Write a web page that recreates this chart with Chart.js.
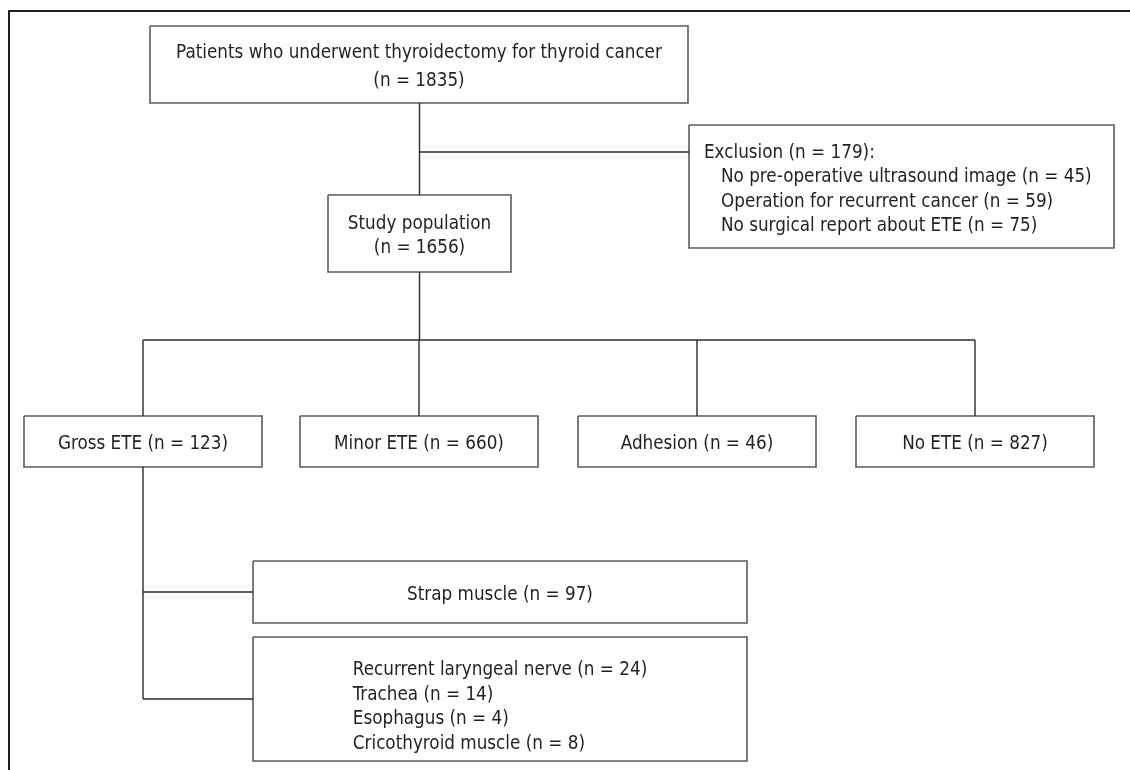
<!DOCTYPE html>
<html><head><meta charset="utf-8">
<script src="https://cdn.jsdelivr.net/npm/chart.js@4/dist/chart.umd.min.js"></script>
<style>html,body{margin:0;padding:0;background:#fff;}#wrap{width:1130px;height:770px;position:relative;}</style>
</head><body><div id="wrap"><canvas id="c"></canvas></div>
<script>
// ---- data ----
const rootLabel = "Patients who underwent thyroidectomy for thyroid cancer";
const rootCount = 1835;
const studyLabel = "Study population";
const studyCount = 1656;
const exclusionTotal = 179;
const exclusionReasons = ["No pre-operative ultrasound image", "Operation for recurrent cancer", "No surgical report about ETE"];
const exclusionCounts = [45, 59, 75];
const eteGroups = ["Gross ETE", "Minor ETE", "Adhesion", "No ETE"];
const eteCounts = [123, 660, 46, 827];
const strapLabel = "Strap muscle";
const strapCount = 97;
const siteLabels = ["Recurrent laryngeal nerve", "Trachea", "Esophagus", "Cricothyroid muscle"];
const siteCounts = [24, 14, 4, 8];

// ---- layout (frame units = px of a 1130x770 page) ----
const L = {
  frame: {x: 9, y: 11, right: 1130, bottom: 770},
  root: {x1: 150, x2: 688, y1: 26, y2: 103, gap: 28},
  study: {x1: 328, x2: 511, y1: 195, y2: 272, gap: 24},
  excl: {x1: 689, x2: 1114, y1: 125, y2: 248, gap: 24.5, pad: 15, indent: 32},
  ete: {x1: [24, 300, 578, 856], w: 238, y1: 416, y2: 467},
  busY: 340, exclY: 152,
  strap: {x1: 253, x2: 747, y1: 561, y2: 623},
  sites: {x1: 253, x2: 747, y1: 637, y2: 761, gap: 24.5, dy: 5},
  textDy: 3
};
const mainX = (L.study.x1 + L.study.x2) / 2;
const eteCx = L.ete.x1.map(x => x + L.ete.w / 2);
const grossX = eteCx[0];
const strapY = (L.strap.y1 + L.strap.y2) / 2;
const sitesY = (L.sites.y1 + L.sites.y2) / 2;

function rectPts(b) {
  return [{x: b.x1, y: b.y1}, {x: b.x2, y: b.y1}, {x: b.x2, y: b.y2}, {x: b.x1, y: b.y2}, {x: b.x1, y: b.y1}];
}
const boxes = [L.root, L.study, L.excl, L.strap, L.sites]
  .concat(L.ete.x1.map(x => ({x1: x, x2: x + L.ete.w, y1: L.ete.y1, y2: L.ete.y2})));

const connectors = [
  [{x: mainX, y: L.root.y2}, {x: mainX, y: L.study.y1}],
  [{x: mainX, y: L.exclY}, {x: L.excl.x1, y: L.exclY}],
  [{x: mainX, y: L.study.y2}, {x: mainX, y: L.busY}],
  [{x: eteCx[0], y: L.busY}, {x: eteCx[3], y: L.busY}],
  ...eteCx.map(c => [{x: c, y: L.busY}, {x: c, y: L.ete.y1}]),
  [{x: grossX, y: L.ete.y2}, {x: grossX, y: sitesY}],
  [{x: grossX, y: strapY}, {x: L.strap.x1, y: strapY}],
  [{x: grossX, y: sitesY}, {x: L.sites.x1, y: sitesY}]
];
const frameLine = [{x: L.frame.x, y: L.frame.bottom}, {x: L.frame.x, y: L.frame.y}, {x: L.frame.right, y: L.frame.y}];

const datasets = [];
datasets.push({data: frameLine, showLine: true, borderColor: '#231f20', borderWidth: 2, pointRadius: 0, fill: false});
connectors.forEach(d => datasets.push({data: d, showLine: true, borderColor: '#2b2b2b', borderWidth: 1.4, pointRadius: 0, fill: false}));
boxes.forEach(b => datasets.push({data: rectPts(b), showLine: true, borderColor: '#5b5b5b', borderWidth: 1.6, pointRadius: 0, fill: false, borderJoinStyle: 'miter'}));

// ---- font ----
function pickFamily() {
  const c = document.createElement('canvas').getContext('2d');
  const s = 'Patients who underwent thyroidectomy';
  c.font = '20px monospace'; const m = c.measureText(s).width;
  c.font = '20px serif'; const se = c.measureText(s).width;
  for (const f of ['Liberation Sans Narrow', 'DejaVu Sans Condensed', 'Liberation Sans']) {
    c.font = `20px "${f}", monospace`; const a = c.measureText(s).width;
    c.font = `20px "${f}", serif`; const b = c.measureText(s).width;
    if (a !== m || b !== se) return f;
  }
  return 'sans-serif';
}
const FAMILY = pickFamily();
const FONT_SIZE = (() => {
  const c = document.createElement('canvas').getContext('2d');
  c.font = `20px "${FAMILY}"`;
  return 20 * 486 / c.measureText(rootLabel).width;
})();

const textPlugin = {
  id: 'flowText',
  afterDatasetsDraw(chart) {
    const ctx = chart.ctx, xs = chart.scales.x, ys = chart.scales.y;
    const fx = v => xs.getPixelForValue(v), fy = v => ys.getPixelForValue(v + L.textDy);
    ctx.save();
    ctx.fillStyle = '#231f20';
    ctx.font = `${FONT_SIZE}px "${FAMILY}"`;
    ctx.textBaseline = 'middle';
    function centered(b, lines, gap) {
      const cx = (b.x1 + b.x2) / 2, cy = (b.y1 + b.y2) / 2;
      ctx.textAlign = 'center';
      lines.forEach((t, i) => ctx.fillText(t, fx(cx), fy(cy + (i - (lines.length - 1) / 2) * (gap || 0))));
    }
    centered(L.root, [rootLabel, `(n = ${rootCount})`], L.root.gap);
    centered(L.study, [studyLabel, `(n = ${studyCount})`], L.study.gap);
    eteGroups.forEach((g, i) => centered({x1: L.ete.x1[i], x2: L.ete.x1[i] + L.ete.w, y1: L.ete.y1, y2: L.ete.y2}, [`${g} (n = ${eteCounts[i]})`]));
    centered(L.strap, [`${strapLabel} (n = ${strapCount})`]);
    // exclusion
    ctx.textAlign = 'left';
    const ex = [`Exclusion (n = ${exclusionTotal}):`].concat(exclusionReasons.map((r, i) => `${r} (n = ${exclusionCounts[i]})`));
    const ecy = (L.excl.y1 + L.excl.y2) / 2;
    ex.forEach((t, i) => {
      const x = L.excl.x1 + (i === 0 ? L.excl.pad : L.excl.indent);
      ctx.fillText(t, fx(x), fy(ecy + (i - (ex.length - 1) / 2) * L.excl.gap));
    });
    // sites block
    const sl = siteLabels.map((s, i) => `${s} (n = ${siteCounts[i]})`);
    const maxW = Math.max(...sl.map(t => ctx.measureText(t).width));
    const left = fx((L.sites.x1 + L.sites.x2) / 2) - maxW / 2;
    sl.forEach((t, i) => ctx.fillText(t, left, fy(sitesY + L.sites.dy + (i - (sl.length - 1) / 2) * L.sites.gap)));
    ctx.restore();
  }
};

new Chart(document.getElementById('c'), {
  type: 'scatter',
  data: {datasets},
  options: {
    responsive: true, maintainAspectRatio: false, animation: false,
    layout: {padding: 0},
    plugins: {legend: {display: false}, tooltip: {enabled: false}},
    scales: {
      x: {type: 'linear', min: 0, max: 1130, display: false},
      y: {type: 'linear', min: 0, max: 770, reverse: true, display: false}
    },
    elements: {line: {tension: 0}}
  },
  plugins: [textPlugin]
});
</script></body></html>
